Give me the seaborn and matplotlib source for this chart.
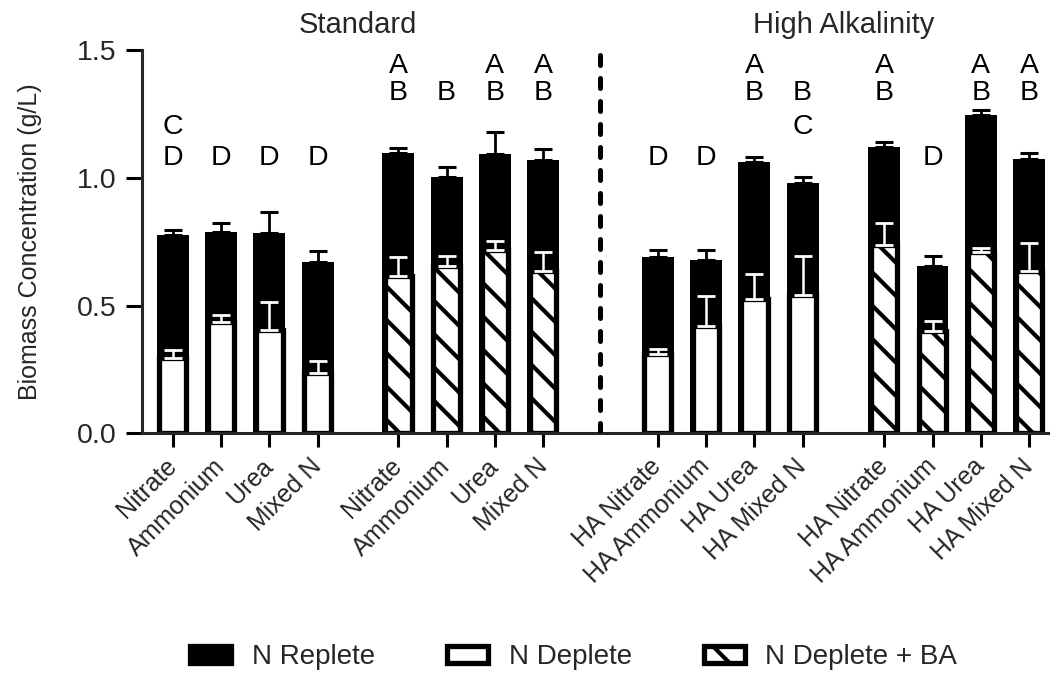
import numpy as np
import pandas as pd
import matplotlib
matplotlib.use("Agg")
import matplotlib.pyplot as plt
from matplotlib.patches import Patch
from matplotlib.transforms import blended_transform_factory
import seaborn as sns

# ---------------- data ----------------
labels_std = ["Nitrate", "Ammonium", "Urea", "Mixed N"]
labels_ha = ["HA Nitrate", "HA Ammonium", "HA Urea", "HA Mixed N"]
tick_labels = labels_std * 2 + labels_ha * 2
treatment = (["N Deplete"] * 4 + ["N Deplete + BA"] * 4
             + ["N Deplete"] * 4 + ["N Deplete + BA"] * 4)

replete_mean = [0.776, 0.789, 0.783, 0.672, 1.096, 1.004, 1.093, 1.070,
                0.691, 0.678, 1.063, 0.981, 1.119, 0.656, 1.246, 1.072]
replete_err = [0.020, 0.035, 0.082, 0.043, 0.022, 0.037, 0.087, 0.044,
               0.026, 0.039, 0.020, 0.023, 0.022, 0.038, 0.019, 0.026]
deplete_mean = [0.295, 0.436, 0.403, 0.237, 0.616, 0.655, 0.717, 0.635,
                0.310, 0.420, 0.526, 0.542, 0.735, 0.400, 0.710, 0.635]
deplete_err = [0.031, 0.027, 0.112, 0.046, 0.075, 0.039, 0.037, 0.076,
               0.019, 0.117, 0.098, 0.152, 0.087, 0.040, 0.014, 0.109]
letters = ["CD", "D", "D", "D", "AB", "B", "AB", "AB",
           "D", "D", "AB", "BC", "AB", "D", "AB", "AB"]
panel_titles = ["Standard", "High Alkalinity"]
legend_labels = ["N Replete", "N Deplete", "N Deplete + BA"]
y_label = "Biomass Concentration (g/L)"

# ---------------- layout ----------------
group_offsets = [0.0, 4.67, 10.04, 14.73]
pos = [g + i for g in group_offsets for i in range(4)]
letter_rows = {"A": 1.409, "B": 1.304, "C": 1.172, "D": 1.050}

df = pd.DataFrame({"pos": pos, "replete": replete_mean, "replete_err": replete_err,
                   "deplete": deplete_mean, "deplete_err": deplete_err,
                   "treatment": treatment, "label": tick_labels})

sns.set_theme(style="ticks")
plt.rcParams["font.family"] = ["Liberation Sans", "DejaVu Sans"]
plt.rcParams["hatch.linewidth"] = 3.0
plt.rcParams["axes.linewidth"] = 2.2

fig = plt.figure(figsize=(10.51, 6.74), dpi=100)
ax = fig.add_axes([0.1348, 0.3571, 0.8623, 0.5687])

EDGE = 3.8
sns.barplot(data=df, x="pos", y="replete", native_scale=True, orient="x",
            color="black", width=0.66, linewidth=0, saturation=1,
            errorbar=None, ax=ax)
plain = df[df["treatment"] == "N Deplete"]
ba = df[df["treatment"] == "N Deplete + BA"]
sns.barplot(data=plain, x="pos", y="deplete", native_scale=True, orient="x",
            color="white", edgecolor="black", linewidth=EDGE, width=0.55,
            saturation=1, errorbar=None, ax=ax)
sns.barplot(data=ba, x="pos", y="deplete", native_scale=True, orient="x",
            color="white", edgecolor="black", linewidth=EDGE, width=0.55,
            saturation=1, errorbar=None, hatch="\\", ax=ax)

zeros = np.zeros(len(df))
ax.errorbar(df["pos"], df["replete"], yerr=[zeros, df["replete_err"]], fmt="none",
            ecolor="black", elinewidth=2.0, capsize=6.4, capthick=2.2, zorder=3)
ax.errorbar(df["pos"], df["deplete"], yerr=[zeros, df["deplete_err"]], fmt="none",
            ecolor="white", elinewidth=1.8, capsize=6.4, capthick=2.0, zorder=3)

# letters
for x, s in zip(df["pos"], letters):
    for ch in s:
        ax.text(x, letter_rows[ch], ch, ha="center", va="baseline",
                fontsize=20.5, color="black", zorder=4)

# dashed separator
sep = (pos[7] + pos[8]) / 2
ax.axvline(sep, ymin=0, ymax=1, color="black", lw=3.6,
           linestyle=(0, (2.0, 2.6)), dash_capstyle="round", zorder=3)

# panel titles
trans = blended_transform_factory(ax.transData, fig.transFigure)
ax.text(np.mean(pos[:8]), 0.9506, panel_titles[0], transform=trans,
        ha="center", va="baseline", fontsize=21)
ax.text(np.mean(pos[8:]), 0.9506, panel_titles[1], transform=trans,
        ha="center", va="baseline", fontsize=21)

ax.set_xlim(-0.642, 18.12)
ax.set_ylim(0, 1.5)
ax.set_yticks([0.0, 0.5, 1.0, 1.5], ["0.0", "0.5", "1.0", "1.5"], fontsize=20.5)
ax.set_xticks(pos, tick_labels, rotation=45, ha="right", va="center",
              rotation_mode="anchor", fontsize=18)
ax.tick_params(axis="y", length=11.5, width=2.2, pad=6.5, color="black")
ax.tick_params(axis="x", length=10, width=2.2, pad=11, color="black")
ax.set_xlabel("")
ax.set_ylabel(y_label, fontsize=18)
ax.yaxis.set_label_coords(-0.110, 0.5)
sns.despine(ax=ax)

handles = [Patch(facecolor="black", edgecolor="black", linewidth=EDGE),
           Patch(facecolor="white", edgecolor="black", linewidth=EDGE),
           Patch(facecolor="white", edgecolor="black", linewidth=EDGE, hatch="\\")]
fig.legend(handles, legend_labels, ncol=3, loc="center",
           bbox_to_anchor=(0.546, 0.025), frameon=False, fontsize=20,
           handlelength=1.46, handleheight=0.56, handletextpad=0.75,
           columnspacing=2.6)

fig.savefig("out.png", dpi=100)
